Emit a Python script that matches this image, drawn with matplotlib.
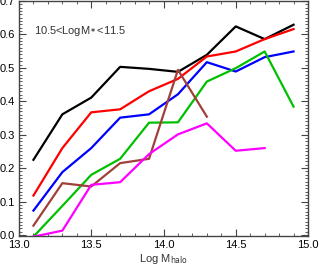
import matplotlib
matplotlib.use("Agg")
import matplotlib.pyplot as plt
from matplotlib.ticker import MultipleLocator, FormatStrFormatter

plt.rcParams['font.family'] = ['Liberation Sans', 'DejaVu Sans']

x_all = [13.1, 13.3, 13.5, 13.7, 13.9, 14.1, 14.3, 14.5, 14.7, 14.9]
black = [0.225, 0.361, 0.411, 0.503, 0.497, 0.488, 0.539, 0.624, 0.586, 0.629]
red = [0.118, 0.260, 0.367, 0.376, 0.430, 0.467, 0.534, 0.549, 0.586, 0.616]
blue = [0.073, 0.188, 0.260, 0.351, 0.361, 0.421, 0.517, 0.489, 0.532, 0.549]
green = [-0.005, 0.087, 0.180, 0.228, 0.336, 0.337, 0.459, 0.499, 0.549, 0.384]
brown = [0.028, 0.155, 0.145, 0.215, 0.228, 0.494, 0.354]
magenta = [-0.005, 0.013, 0.150, 0.158, 0.242, 0.301, 0.334, 0.252, 0.260]

fig = plt.figure(figsize=(3.19, 2.68), dpi=100)
ax = fig.add_axes([19/319, 1-236/268, (308-19)/319, (236-1)/268])

lw = 1.6
ax.plot(x_all, black, color='black', lw=lw)
ax.plot(x_all, red, color='#ff0000', lw=lw)
ax.plot(x_all, blue, color='#0000ff', lw=lw)
ax.plot(x_all, green, color='#00c000', lw=lw)
ax.plot(x_all[:len(brown)], brown, color='#a0403a', lw=lw)
ax.plot(x_all[:len(magenta)], magenta, color='#ff00ff', lw=lw)

ax.set_xlim(13.0, 15.0)
ax.set_ylim(-0.003, 0.7)
ax.xaxis.set_major_locator(MultipleLocator(0.5))
ax.xaxis.set_minor_locator(MultipleLocator(0.1))
ax.yaxis.set_major_locator(MultipleLocator(0.1))
ax.yaxis.set_minor_locator(MultipleLocator(0.01))
ax.xaxis.set_major_formatter(FormatStrFormatter('%.1f'))
ax.yaxis.set_major_formatter(FormatStrFormatter('%.1f'))
ax.tick_params(which='both', direction='in', top=True, right=True, labelsize=8, color='#444444', pad=3)
ax.tick_params(which='major', length=5, width=0.8)
ax.tick_params(which='minor', length=2.5, width=0.6)
for s in ax.spines.values():
    s.set_color('#444444')
    s.set_linewidth(1.0)

ax.set_xlabel(r'Log M$_{\rm halo}$', fontsize=8, labelpad=1, color='#333333')
ax.text(13.104, 0.611, r'10.5<LogM$_{\bf *}$<11.5', fontsize=8, color='#333333', va='center')

fig.savefig('out.png', dpi=100)
